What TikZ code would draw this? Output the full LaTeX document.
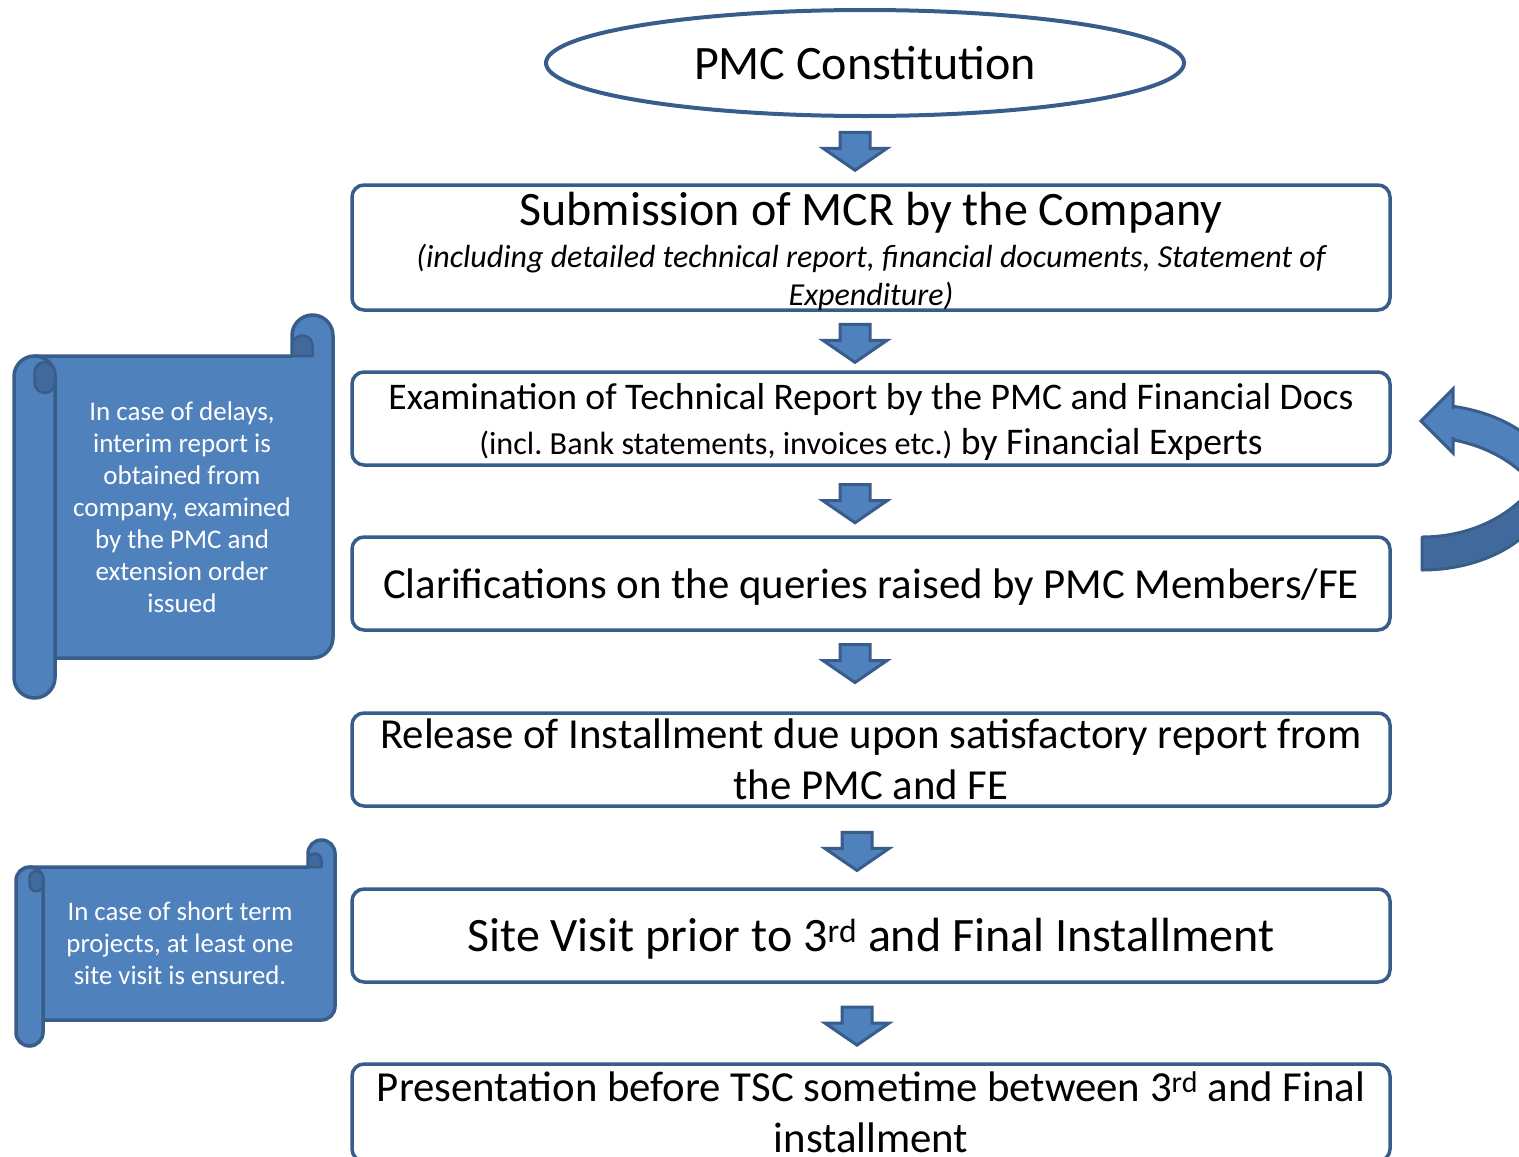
\documentclass[tikz,border=0pt]{standalone}
\usepackage{fontspec}
\setmainfont{Carlito}
\usetikzlibrary{shapes.geometric,calc}
\definecolor{bfill}{HTML}{4F81BD}
\definecolor{bline}{HTML}{385D8A}
\definecolor{bdark}{HTML}{41699B}
\frenchspacing
% scroll: #1 L, #2 T, #3 R, #4 B, #5 roll diameter, #6 body bottom (pixels, y down)
\newcommand\myscroll[6]{%
  \pgfmathsetmacro\sR{#5/2}%
  \pgfmathsetmacro\sQ{#5/4}%
  \pgfmathsetmacro\yT{-(#2+#5)}%
  \pgfmathsetmacro\yB{-(#6)}%
  \pgfmathsetmacro\xA{#1+\sR}%
  \pgfmathsetmacro\xC{#3-#5}%
  \pgfmathsetmacro\yC{-(#2+\sR)}%
  \pgfmathsetmacro\yTube{-(#2+#5+\sR)}%
  \pgfmathsetmacro\yCurl{-(#2+#5+1.6*\sQ)}%
  % body with the upper right roll
  \draw[scrollst] (\xA,\yT) -- (\xC,\yT) -- (\xC,\yC)
     arc[start angle=180,end angle=0,radius=\sR pt]
     -- (#3,{\yB+\sR}) arc[start angle=0,end angle=-90,radius=\sR pt]
     -- (\xA,\yB) -- cycle;
  % inner curl of the upper roll
  \draw[curlst] (\xC,\yT) -- (\xC,{\yT+\sQ})
     arc[start angle=180,end angle=0,radius=\sQ pt] -- ({\xC+2*\sQ},\yT) -- cycle;
  % left roll
  \draw[scrollst] (#1,\yTube) arc[start angle=180,end angle=0,radius=\sR pt]
     -- ({#1+#5},{-(#4)+\sR}) arc[start angle=0,end angle=-180,radius=\sR pt] -- cycle;
  % inner curl of the left roll
  \draw[curlst] (\xA,\yCurl) arc[start angle=180,end angle=0,radius=\sQ pt]
     -- ({#1+#5},{\yCurl-\sQ}) arc[start angle=0,end angle=-180,radius=\sQ pt] -- cycle;
}
\tikzset{
  box/.style={draw=bline, line width=3.5pt, rounded corners=12pt, minimum width=1038pt,
    inner sep=0pt, align=center, text=black},
  line/.style={inner sep=0pt, anchor=base, text=black},
  barrow/.style={fill=bfill, draw=bline, line width=3pt, line join=miter},
  scrollst/.style={fill=bfill, draw=bline, line width=3.5pt, line join=round},
  curlst/.style={fill=bdark, draw=bline, line width=2.5pt, line join=round},
  bandst/.style={draw=bline, line width=3pt, line join=round},
  scrolltext/.style={text=white, align=center, inner sep=0pt},
  blockarrow/.pic={\draw[barrow] (-15,19) -- (15,19) -- (15,3) -- (32,3) -- (0,-19) -- (-32,3) -- (-15,3) -- cycle;},
}
\begin{document}
\begin{tikzpicture}[x=1pt,y=1pt]
\useasboundingbox (0,0) rectangle (1519,-1157);
\clip (0,0) rectangle (1519,-1157);

% top ellipse
\node[draw=bline, line width=4pt, ellipse, minimum width=638pt, minimum height=106pt,
      inner sep=0pt, font=\fontsize{48}{58}\selectfont] (e) at (865,-63) {PMC Constitution};

% boxes
\node[box, minimum height=125pt] (b1) at (871,-247.5) {};
\node[line, font=\fontsize{48}{58}\selectfont] (b1a) at (871,-225) {Submission of MCR by the Company};
\node[line, font=\fontsize{32}{38}\selectfont\itshape] (b1b) at (871,-267.5)
  {(including detailed technical report, financial documents, Statement of};
\node[line, font=\fontsize{32}{38}\selectfont\itshape] (b1c) at (871,-305) {Expenditure)};

\node[box, minimum height=93pt] (b2) at (871,-418.5) {};
\node[line, font=\fontsize{37.6}{45}\selectfont] (b2a) at (871,-409)
  {Examination of Technical Report by the PMC and Financial Docs};
\node[line, font=\fontsize{37.6}{45}\selectfont] (b2b) at (871,-454.5)
  {{\fontsize{32.2}{45}\selectfont (incl. Bank statements, invoices etc.)} by Financial Experts};

\node[box, minimum height=93pt, font=\fontsize{42.8}{51}\selectfont, text height=40.7pt, text depth=11.5pt]
  (b3) at (871,-583.5) {Clarifications on the queries raised by PMC Members/FE};
\node[box, minimum height=93pt, font=\fontsize{42.8}{51}\selectfont] (b4) at (871,-759.5)
  {Release of Installment due upon satisfactory report from\\the PMC and FE};
\node[box, minimum height=93pt, font=\fontsize{48}{58}\selectfont, text height=45.7pt, text depth=12.9pt]
  (b5) at (871,-935.5) {Site Visit prior to 3\textsuperscript{rd} and Final Installment};
\node[box, minimum height=97pt, font=\fontsize{42.8}{51}\selectfont] (b6) at (871,-1112.5)
  {Presentation before TSC sometime between 3\textsuperscript{rd} and Final\\installment};

% block arrows between steps
\pic at ($(e.south)!0.51!(b1.north)+(-13,0)$) {blockarrow};
\pic at ($(b1.south)!0.54!(b2.north)+(-16,0)$) {blockarrow};
\pic at ($(b2.south)!0.54!(b3.north)+(-16,0)$) {blockarrow};
\pic at ($(b3.south)!0.40!(b4.north)+(-16,0)$) {blockarrow};
\pic at ($(b4.south)!0.55!(b5.north)+(-14,0)$) {blockarrow};
\pic at ($(b5.south)!0.54!(b6.north)+(-14,0)$) {blockarrow};

% scrolls
\myscroll{14}{315}{333}{698}{41}{658}
\node[scrolltext, font=\fontsize{27}{32}\selectfont] (s1) at (182,-507.5)
  {In case of delays,\\interim report is\\obtained from\\company, examined\\by the PMC and\\extension order\\issued};
\myscroll{16}{840}{335}{1046}{27}{1020}
\node[scrolltext, font=\fontsize{26.8}{32}\selectfont] (s2) at (180,-943.5)
  {In case of short term\\projects, at least one\\site visit is ensured.};

% curved return arrow (from clarifications back to examination)
\fill[bdark] (1422,-570) arc[start angle=-90,end angle=0,x radius=130pt,y radius=90pt]
   -- (1552,-432) arc[start angle=0,end angle=-90,x radius=130pt,y radius=105pt] -- cycle;
\draw[bandst] (1422,-570) arc[start angle=-90,end angle=0,x radius=130pt,y radius=90pt]
   -- (1552,-432) arc[start angle=0,end angle=-90,x radius=130pt,y radius=105pt] -- cycle;
\draw[bandst, fill=bfill] ([shift={(1422,-482)}]76.66:130pt and 78pt)
   arc[start angle=76.66,end angle=0,x radius=130pt,y radius=78pt]
   -- (1552,-536) arc[start angle=0,end angle=76.66,x radius=130pt,y radius=99pt] -- cycle;
\draw[bandst, fill=bfill, line join=miter] (1421,-421) -- (1453,-389) -- (1453,-453) -- cycle;
\fill[bfill] (1449,-409) rectangle (1457,-437);
\end{tikzpicture}
\end{document}
